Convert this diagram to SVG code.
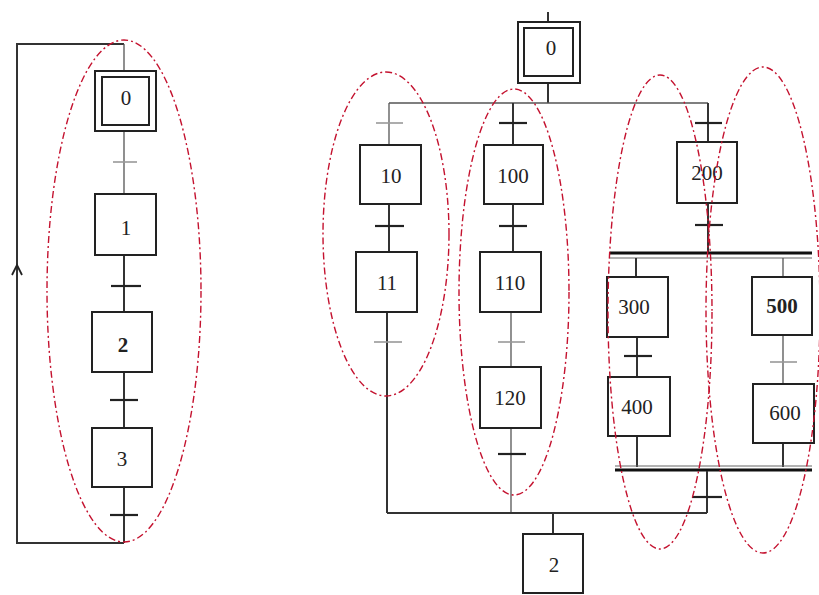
<svg xmlns="http://www.w3.org/2000/svg" width="819" height="595" viewBox="0 0 819 595">
  <style>
    .step rect { fill: #ffffff; stroke: #222; stroke-width: 2; }
    .step text { font-family: "Liberation Serif", "Times New Roman", serif; font-size: 21px; fill: #222; text-anchor: middle; dominant-baseline: central; }
    .link { fill: none; stroke: #333; stroke-width: 2; }
    .thin { fill: none; stroke: #555; stroke-width: 1.3; }
    .tr { stroke: #222; stroke-width: 2.2; }
    .tr-light { stroke: #999; stroke-width: 1.6; }
    .bar { stroke: #111; stroke-width: 3; }
    .bar2 { stroke: #666; stroke-width: 1.2; }
    .zone { fill: none; stroke: #c4122f; stroke-width: 1.4; stroke-dasharray: 7 3 2 3; }
  </style>

  <rect width="819" height="595" fill="#ffffff"/>

  <!-- connectors -->
  <g id="connectors">
    <!-- left chart: loop and vertical links -->
    <path class="link" d="M124,44 H17 V543 H124"/>
    <path d="M12,275 L17,265 L22,275" fill="none" stroke="#222" stroke-width="1.8"/>
    <path class="thin" d="M124,44 V71 M124,131 V193"/>
    <path class="link" d="M124,255 V312 M124,372 V428 M124,487 V543"/>
    <line class="tr-light" x1="113" y1="162" x2="137" y2="162"/>
    <line class="tr" x1="111" y1="286" x2="141" y2="286"/>
    <line class="tr" x1="110" y1="400" x2="138" y2="400"/>
    <line class="tr" x1="110" y1="515" x2="138" y2="515"/>

    <!-- right chart: from step 0 to the choice -->
    <path class="link" d="M548,12 V22 M548,83 V103"/>
    <path class="thin" d="M389,103 H708"/>

    <!-- branch 10 / 11 -->
    <path class="thin" d="M389,103 V145"/>
    <line class="tr-light" x1="376" y1="123" x2="403" y2="123"/>
    <path class="link" d="M389,204 V252"/>
    <line class="tr" x1="375" y1="226" x2="404" y2="226"/>
    <path class="link" d="M387,312 V513"/>
    <line class="tr-light" x1="374" y1="342" x2="402" y2="342"/>

    <!-- branch 100 / 110 / 120 -->
    <path class="link" d="M513,103 V145"/>
    <line class="tr" x1="499" y1="123" x2="527" y2="123"/>
    <path class="link" d="M513,204 V252"/>
    <line class="tr" x1="499" y1="226" x2="527" y2="226"/>
    <path class="thin" d="M511,312 V367"/>
    <line class="tr-light" x1="498" y1="342" x2="525" y2="342"/>
    <path class="thin" d="M511,428 V513"/>
    <line class="tr" x1="498" y1="454" x2="526" y2="454"/>

    <!-- branch 200 and the parallel section -->
    <path class="link" d="M708,103 V142"/>
    <line class="tr" x1="695" y1="123" x2="722" y2="123"/>
    <path class="link" d="M708,203 V253"/>
    <line class="tr" x1="695" y1="225" x2="723" y2="225"/>
    <line class="bar" x1="610" y1="253" x2="812" y2="253"/>
    <line class="bar2" x1="610" y1="258" x2="812" y2="258"/>
    <path class="link" d="M636,258 V277 M637,337 V377 M637,436 V467"/>
    <line class="tr" x1="624" y1="356" x2="652" y2="356"/>
    <path class="thin" d="M783,258 V277 M783,335 V384"/>
    <line class="tr-light" x1="770" y1="362" x2="797" y2="362"/>
    <path class="link" d="M783,443 V467"/>
    <line class="bar2" x1="615" y1="466" x2="812" y2="466"/>
    <line class="bar" x1="615" y1="470" x2="812" y2="470"/>
    <path class="link" d="M707,471 V513"/>
    <line class="tr" x1="692" y1="497" x2="722" y2="497"/>

    <!-- merge into step 2 -->
    <path class="link" d="M387,513 H707"/>
    <path class="link" d="M553,513 V534"/>
  </g>

  <!-- left chart steps -->
  <g id="L0" class="step">
    <rect x="95" y="71" width="61" height="60"/>
    <rect x="102" y="77" width="47" height="48"/>
    <text x="126" y="98">0</text>
  </g>
  <g id="L1" class="step">
    <rect x="95" y="194" width="61" height="61"/>
    <text x="126" y="228">1</text>
  </g>
  <g id="L2" class="step">
    <rect x="92" y="312" width="60" height="60"/>
    <text x="123" y="345" font-weight="bold">2</text>
  </g>
  <g id="L3" class="step">
    <rect x="92" y="428" width="60" height="59"/>
    <text x="122" y="459">3</text>
  </g>

  <!-- right chart steps -->
  <g id="R0" class="step">
    <rect x="518" y="22" width="62" height="61"/>
    <rect x="524" y="28" width="49" height="48"/>
    <text x="551" y="48">0</text>
  </g>
  <g id="R10" class="step">
    <rect x="360" y="145" width="61" height="59"/>
    <text x="391" y="176">10</text>
  </g>
  <g id="R11" class="step">
    <rect x="356" y="252" width="61" height="60"/>
    <text x="387" y="283">11</text>
  </g>
  <g id="R100" class="step">
    <rect x="484" y="145" width="59" height="59"/>
    <text x="513" y="176">100</text>
  </g>
  <g id="R110" class="step">
    <rect x="480" y="252" width="61" height="60"/>
    <text x="510" y="283">110</text>
  </g>
  <g id="R120" class="step">
    <rect x="480" y="367" width="61" height="61"/>
    <text x="510" y="398">120</text>
  </g>
  <g id="R200" class="step">
    <rect x="677" y="142" width="60" height="61"/>
    <text x="707" y="173">200</text>
  </g>
  <g id="R300" class="step">
    <rect x="607" y="277" width="61" height="60"/>
    <text x="634" y="307">300</text>
  </g>
  <g id="R400" class="step">
    <rect x="608" y="377" width="62" height="59"/>
    <text x="637" y="407">400</text>
  </g>
  <g id="R500" class="step">
    <rect x="752" y="277" width="60" height="58"/>
    <text x="782" y="306" font-weight="bold">500</text>
  </g>
  <g id="R600" class="step">
    <rect x="753" y="384" width="61" height="59"/>
    <text x="785" y="413">600</text>
  </g>
  <g id="R2" class="step">
    <rect x="523" y="534" width="60" height="59"/>
    <text x="554" y="565">2</text>
  </g>

  <!-- dashed zones grouping the sequences -->
  <g id="zones">
    <ellipse class="zone" cx="124" cy="291" rx="77" ry="251"/>
    <ellipse class="zone" cx="386" cy="234" rx="63" ry="162"/>
    <ellipse class="zone" cx="514" cy="292" rx="55" ry="203"/>
    <ellipse class="zone" cx="660" cy="312" rx="52" ry="237"/>
    <ellipse class="zone" cx="763" cy="310" rx="57" ry="243"/>
  </g>
</svg>
